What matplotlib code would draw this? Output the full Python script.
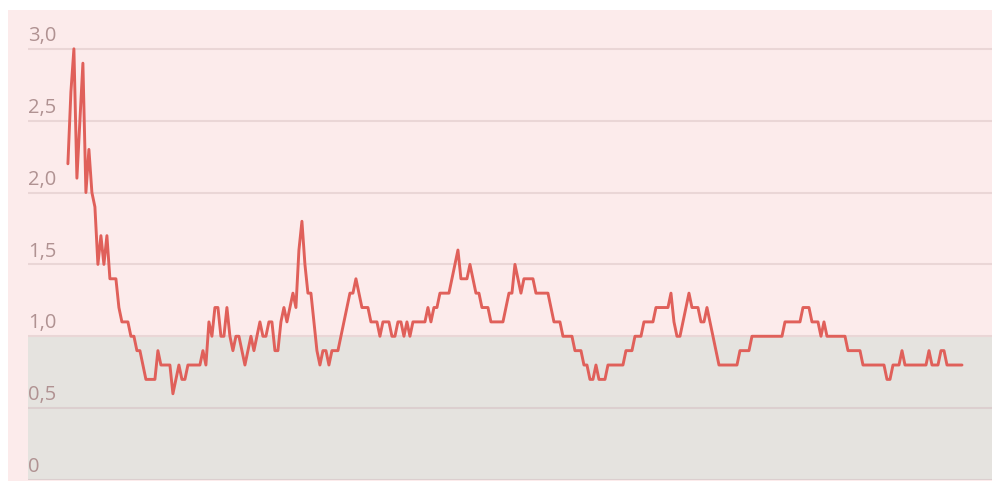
import numpy as np
import matplotlib
matplotlib.use("Agg")
import matplotlib.pyplot as plt
from matplotlib.patches import Rectangle

# daily values (reproduction number, rounded to 0.1)
r_values = [
    2.2, 2.7, 3.0, 2.1, 2.5, 2.9, 2.0, 2.3, 2.0, 1.9,
    1.5, 1.7, 1.5, 1.7, 1.4, 1.4, 1.4, 1.2, 1.1, 1.1,
    1.1, 1.0, 1.0, 0.9, 0.9, 0.8, 0.7, 0.7, 0.7, 0.7,
    0.9, 0.8, 0.8, 0.8, 0.8, 0.6, 0.7, 0.8, 0.7, 0.7,
    0.8, 0.8, 0.8, 0.8, 0.8, 0.9, 0.8, 1.1, 1.0, 1.2,
    1.2, 1.0, 1.0, 1.2, 1.0, 0.9, 1.0, 1.0, 0.9, 0.8,
    0.9, 1.0, 0.9, 1.0, 1.1, 1.0, 1.0, 1.1, 1.1, 0.9,
    0.9, 1.1, 1.2, 1.1, 1.2, 1.3, 1.2, 1.6, 1.8, 1.5,
    1.3, 1.3, 1.1, 0.9, 0.8, 0.9, 0.9, 0.8, 0.9, 0.9,
    0.9, 1.0, 1.1, 1.2, 1.3, 1.3, 1.4, 1.3, 1.2, 1.2,
    1.2, 1.1, 1.1, 1.1, 1.0, 1.1, 1.1, 1.1, 1.0, 1.0,
    1.1, 1.1, 1.0, 1.1, 1.0, 1.1, 1.1, 1.1, 1.1, 1.1,
    1.2, 1.1, 1.2, 1.2, 1.3, 1.3, 1.3, 1.3, 1.4, 1.5,
    1.6, 1.4, 1.4, 1.4, 1.5, 1.4, 1.3, 1.3, 1.2, 1.2,
    1.2, 1.1, 1.1, 1.1, 1.1, 1.1, 1.2, 1.3, 1.3, 1.5,
    1.4, 1.3, 1.4, 1.4, 1.4, 1.4, 1.3, 1.3, 1.3, 1.3,
    1.3, 1.2, 1.1, 1.1, 1.1, 1.0, 1.0, 1.0, 1.0, 0.9,
    0.9, 0.9, 0.8, 0.8, 0.7, 0.7, 0.8, 0.7, 0.7, 0.7,
    0.8, 0.8, 0.8, 0.8, 0.8, 0.8, 0.9, 0.9, 0.9, 1.0,
    1.0, 1.0, 1.1, 1.1, 1.1, 1.1, 1.2, 1.2, 1.2, 1.2,
    1.2, 1.3, 1.1, 1.0, 1.0, 1.1, 1.2, 1.3, 1.2, 1.2,
    1.2, 1.1, 1.1, 1.2, 1.1, 1.0, 0.9, 0.8, 0.8, 0.8,
    0.8, 0.8, 0.8, 0.8, 0.9, 0.9, 0.9, 0.9, 1.0, 1.0,
    1.0, 1.0, 1.0, 1.0, 1.0, 1.0, 1.0, 1.0, 1.0, 1.1,
    1.1, 1.1, 1.1, 1.1, 1.1, 1.2, 1.2, 1.2, 1.1, 1.1,
    1.1, 1.0, 1.1, 1.0, 1.0, 1.0, 1.0, 1.0, 1.0, 1.0,
    0.9, 0.9, 0.9, 0.9, 0.9, 0.8, 0.8, 0.8, 0.8, 0.8,
    0.8, 0.8, 0.8, 0.7, 0.7, 0.8, 0.8, 0.8, 0.9, 0.8,
    0.8, 0.8, 0.8, 0.8, 0.8, 0.8, 0.8, 0.9, 0.8, 0.8,
    0.8, 0.9, 0.9, 0.8, 0.8, 0.8, 0.8, 0.8, 0.8,
]
y_ticks = [0, 0.5, 1.0, 1.5, 2.0, 2.5, 3.0]
y_labels = ["0", "0,5", "1,0", "1,5", "2,0", "2,5", "3,0"]

plt.rcParams['font.family'] = ['Open Sans', 'DejaVu Sans']

fig = plt.figure(figsize=(10, 4.83), dpi=100)
fig.patches.append(Rectangle((0.008, 0.004), 0.984, 0.975, transform=fig.transFigure,
                             facecolor='#fcebeb', edgecolor='none', zorder=-10))

ax = fig.add_axes([0.028, 3 / 483, 0.964, 470 / 483])
ax.set_facecolor('none')

x = np.arange(len(r_values))
ax.axhspan(0, 1.0, color='#e5e3df', zorder=0, lw=0)
for v, lab in zip(y_ticks, y_labels):
    ax.axhline(v, color='#ead6d6' if v >= 1 else '#dccfcf', lw=1.5, zorder=1)
    ax.annotate(lab, xy=(0, v), xycoords=ax.get_yaxis_transform(),
                xytext=(0, 2), textcoords='offset points',
                ha='left', va='bottom', fontsize=14.5, color='#b09292')

ax.plot(x, r_values, color='#e0605a', lw=2.1, zorder=3,
        solid_joinstyle='round', solid_capstyle='round')

ax.set_xlim(-13.3, 308)
ax.set_ylim(0, 3.27)
ax.set_xticks([])
ax.set_yticks([])
for s in ax.spines.values():
    s.set_visible(False)

fig.savefig('out.png', dpi=100, facecolor='white')
